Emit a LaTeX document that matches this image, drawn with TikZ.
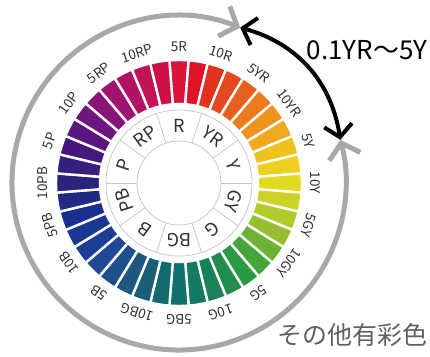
\documentclass[tikz,border=0pt]{standalone}
\usepackage{fontspec}
\setmainfont{Noto Sans CJK JP}
\usetikzlibrary{arrows.meta}
\definecolor{ringgrey}{HTML}{A8A8A8}
\definecolor{segline}{HTML}{C8C8C8}
\definecolor{labeltext}{HTML}{303030}
\definecolor{othertext}{HTML}{606060}

\begin{document}
\begin{tikzpicture}[x=1pt, y=1pt]
    \tikzstyle{barlabel}=[text=labeltext, font=\fontsize{13.5}{14}\selectfont, inner sep=0pt]
    \tikzstyle{seglabel}=[text=labeltext, font=\fontsize{18}{18}\selectfont, inner sep=0pt]
    \tikzstyle{greyring}=[draw=ringgrey, line width=5pt,
      {Straight Barb[length=14pt,width=32pt]}-{Straight Barb[length=14pt,width=32pt]}]
    \tikzstyle{rangearrow}=[draw=black, line width=4pt,
      {Straight Barb[length=12pt,width=28pt]}-{Straight Barb[length=12pt,width=28pt]}]
    \useasboundingbox (-179,-173) rectangle (251,183);
    % hue bars, 2.5 steps
    \foreach \k/\c [evaluate=\k as \a using 90-9*\k] in {
        0/D8143A, 1/DE1426, 2/E0321C, 3/E3481E, 4/E8601E, 5/EC7A1E,
        6/F0921E, 7/F1AA20, 8/F0C01E, 9/EDD01E, 10/E2DA1E, 11/CCD226,
        12/B2CA2A, 13/96BE30, 14/6CB234, 15/44A638, 16/2C9A42, 17/228E4E,
        18/1A825A, 19/147A64, 20/0F726C, 21/106A70, 22/185E74, 23/1E5880,
        24/20508C, 25/1E4892, 26/1A3E94, 27/183894, 28/1A3090, 29/202A84,
        30/2A247C, 31/36207C, 32/46187E, 33/5A1680, 34/701480, 35/881478,
        36/9E1470, 37/B21264, 38/C21258, 39/CE1048} {
      \definecolor{barfill}{HTML}{\c}
      \fill[barfill, draw=white, line width=2.4pt]
        (\a+4.5:79) arc[start angle=\a+4.5, end angle=\a-4.5, radius=79]
        -- (\a-4.5:123) arc[start angle=\a-4.5, end angle=\a+4.5, radius=123]
        -- cycle;
    }
    % hue labels
    \foreach \k/\t [evaluate=\k as \a using 90-9*\k] in {
        0/5R, 2/10R, 4/5YR, 6/10YR, 8/5Y, 10/10Y, 12/5GY, 14/10GY, 16/5G, 18/10G,
        20/5BG, 22/10BG, 24/5B, 26/10B, 28/5PB, 30/10PB, 32/5P, 34/10P, 36/5RP, 38/10RP}
      \draw (\a:136) node[barlabel, rotate=\a-90] (h\k) {\t};
    % basic hue ring
    \draw[segline, line width=0.8pt] (0,0) circle[radius=73] circle[radius=42];
    \foreach \j/\t [evaluate=\j as \a using 90-36*\j] in {
        0/R, 1/YR, 2/Y, 3/GY, 4/G, 5/BG, 6/B, 7/PB, 8/P, 9/RP} {
      \draw[segline, line width=0.8pt] (\a+18:42) -- (\a+18:73);
      \draw (\a:57.5) node[seglabel, rotate=\a-90] (s\j) {\t};
    }
    % range of other chromatic colours
    \coordinate (gapA) at (68.5:167);
    \coordinate (gapB) at (15:167);
    \draw[greyring] (gapA) arc[start angle=68.5, end angle=375, radius=167];
    \draw[rangearrow] (gapA) to[bend left=33] (gapB);
    \draw (188,133) node[font=\fontsize{26}{26}\selectfont] (range) {0.1YR～5Y};
    \draw (173,-152) node[text=othertext, font=\fontsize{25}{25}\selectfont] (other) {その他有彩色};
\end{tikzpicture}
\end{document}
